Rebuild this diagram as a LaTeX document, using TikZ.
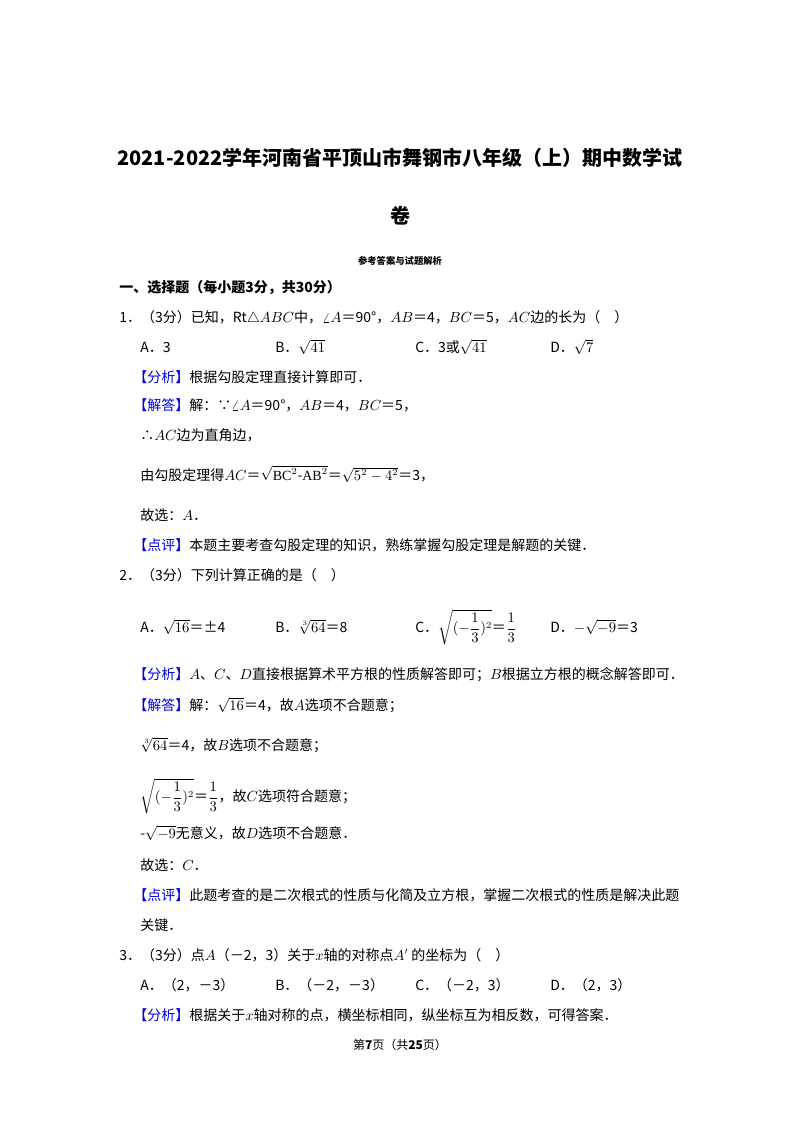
\documentclass[tikz,border=0pt]{standalone}
\usepackage{fontspec}
\usepackage{amsmath}
\setmainfont{Liberation Serif}
\newfontfamily\cjk{Noto Sans CJK SC}
\definecolor{lblue}{RGB}{0,0,230}
\begin{document}
\begin{tikzpicture}[x=0.75pt,y=-0.75pt,
  t/.style={anchor=west,inner sep=0,font=\cjk\fontsize{10.5}{12}\selectfont},
  h/.style={anchor=center,inner sep=0,font=\cjk\bfseries\fontsize{15}{18}\selectfont}]
\useasboundingbox (0,0) rectangle (800,1132);
\fill[white] (0,0) rectangle (800,1132);
\newcommand\lb[1]{\textcolor{lblue}{【#1】}}
\node[h] (t1) at (400,158) {2021-2022学年河南省平顶山市舞钢市八年级（上）期中数学试};
\node[h] (t2) at (400,216) {卷};
\node[anchor=center,inner sep=0,font=\cjk\bfseries\fontsize{7}{8}\selectfont] (t3) at (400,261) {参考答案与试题解析};
\node[t,font=\cjk\bfseries\fontsize{10.5}{12}\selectfont] (s1) at (119,288) {一、选择题（每小题3分，共30分）};
\node[t] (q1) at (119,318) {1．（3分）已知，Rt$\triangle ABC$中，$\angle A$＝90°，$AB$＝4，$BC$＝5，$AC$边的长为（\quad ）};
\node[t] (o1a) at (140,347) {A．3};
\node[t] (o1b) at (275,347) {B．$\sqrt{41}$};
\node[t] (o1c) at (415,347) {C．3或$\sqrt{41}$};
\node[t] (o1d) at (550,347) {D．$\sqrt{7}$};
\node[t] (a1) at (133,377) {\lb{分析}根据勾股定理直接计算即可．};
\node[t] (a2) at (133,405) {\lb{解答}解：∵$\angle A$＝90°，$AB$＝4，$BC$＝5，};
\node[t] (a3) at (140,435) {∴$AC$边为直角边，};
\node[t] (a4) at (140,474) {由勾股定理得$AC$＝$\sqrt{\mathrm{BC}^2\text{-}\mathrm{AB}^2}$＝$\sqrt{5^2-4^2}$＝3，};
\node[t] (a5) at (140,515) {故选：$A$．};
\node[t] (a6) at (133,545) {\lb{点评}本题主要考查勾股定理的知识，熟练掌握勾股定理是解题的关键．};
\node[t] (q2) at (119,575) {2．（3分）下列计算正确的是（\quad ）};
\node[t] (o2a) at (140,627) {A．$\sqrt{16}$＝±4};
\node[t] (o2b) at (275,627) {B．$\sqrt[3]{64}$＝8};
\node[t] (o2c) at (415,627) {C．$\sqrt{(-\dfrac13)^2}$＝$\dfrac13$};
\node[t] (o2d) at (550,627) {D．$-\sqrt{-9}$＝3};
\node[t] (b1) at (133,675) {\lb{分析}$A$、$C$、$D$直接根据算术平方根的性质解答即可；$B$根据立方根的概念解答即可．};
\node[t] (b2) at (133,705) {\lb{解答}解：$\sqrt{16}$＝4，故$A$选项不合题意；};
\node[t] (b3) at (140,745) {$\sqrt[3]{64}$＝4，故$B$选项不合题意；};
\node[t] (b4) at (140,796) {$\sqrt{(-\dfrac13)^2}$＝$\dfrac13$，故$C$选项符合题意；};
\node[t] (b5) at (140,833) {-$\sqrt{-9}$无意义，故$D$选项不合题意．};
\node[t] (b6) at (140,865) {故选：$C$．};
\node[t] (b7) at (133,895) {\lb{点评}此题考查的是二次根式的性质与化简及立方根，掌握二次根式的性质是解决此题};
\node[t] (b8) at (140,925) {关键．};
\node[t] (q3) at (119,955) {3．（3分）点$A$（－2，3）关于$x$轴的对称点$A'$ 的坐标为（\quad ）};
\node[t] (o3a) at (140,985) {A．（2，－3）};
\node[t] (o3b) at (275,985) {B．（－2，－3）};
\node[t] (o3c) at (415,985) {C．（－2，3）};
\node[t] (o3d) at (550,985) {D．（2，3）};
\node[t] (c1) at (133,1015) {\lb{分析}根据关于$x$轴对称的点，横坐标相同，纵坐标互为相反数，可得答案．};
\node[anchor=center,inner sep=0,font=\cjk\fontsize{9}{10}\selectfont] (ft) at (400,1045) {第\textbf{7}页（共\textbf{25}页）};
\end{tikzpicture}
\end{document}
